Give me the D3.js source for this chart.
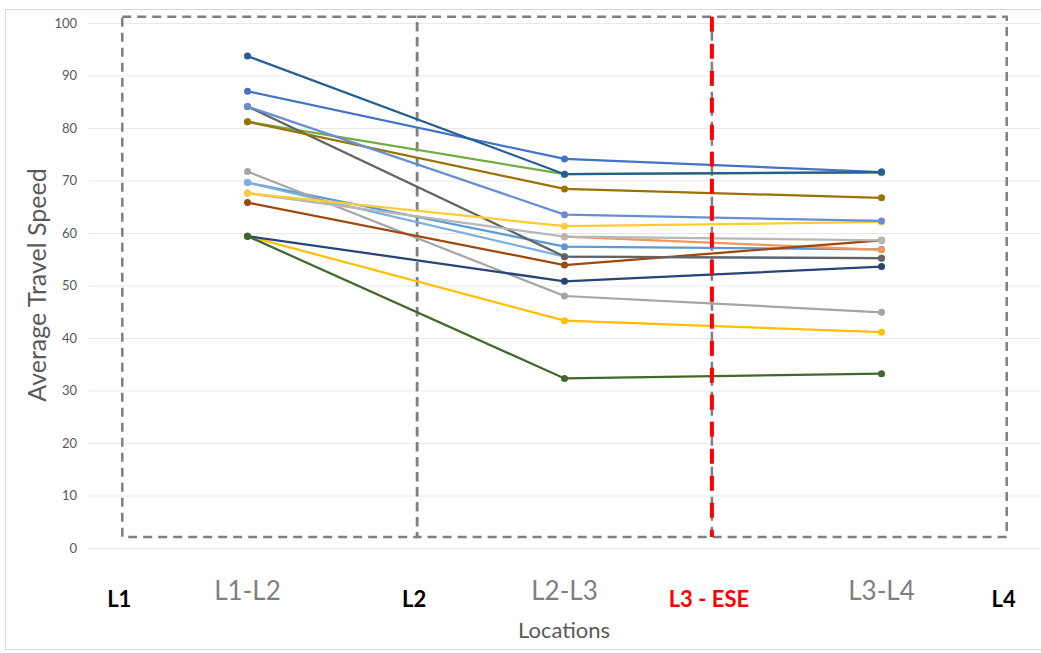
<!DOCTYPE html>
<html>
<head>
<meta charset="utf-8">
<script src="https://cdn.jsdelivr.net/npm/d3@7"></script>
<style>
  body { margin: 0; background: #fff; }
  svg text { font-family: Lato, "Open Sans", sans-serif; }
</style>
</head>
<body>
<svg id="chart" width="1041" height="653"></svg>
<script>
// categories on the x axis
var categories = ["L1-L2", "L2-L3", "L3-L4"];
var yTicks = [0, 10, 20, 30, 40, 50, 60, 70, 80, 90, 100];

// one array per route (null = no point)
var routeA = [69.6, 57.4, 56.9];
var routeB = [69.6, 55.5, 55.2];
var routeC = [87.0, 74.1, 71.6];
var routeD = [81.2, 71.2, 71.5];
var routeE = [null, 59.3, 56.8];
var routeF = [71.7, 48.0, 44.9];
var routeG = [59.4, 43.3, 41.1];
var routeH = [59.4, 50.8, 53.6];
var routeI = [65.8, 53.9, 58.6];
var routeJ = [84.1, 55.5, 55.2];
var routeK = [81.2, 68.4, 66.7];
var routeL = [93.7, 71.2, 71.6];
var routeM = [59.4, 32.3, 33.2];
var routeN = [67.6, 59.3, 58.6];
var routeO = [67.6, 61.3, 62.1];
var routeP = [84.1, 63.5, 62.3];

var routes = [routeA, routeB, routeC, routeD, routeE, routeF, routeG, routeH,
              routeI, routeJ, routeK, routeL, routeM, routeN, routeO, routeP];
var routeColors = ["#5B9BD5", "#7CAFDD", "#4472C4", "#70AD47", "#F1975A", "#A5A5A5",
                   "#FFC000", "#264478", "#9E480E", "#636363", "#997300", "#255E91",
                   "#43682B", "#B7B7B7", "#FFCD33", "#698ED0"];

// location boundaries, in category-index units
var locationLabels = ["L1", "L2", "L3 - ESE", "L4"];
var locationIdx = [-0.395, 0.535, 1.465, 2.395];
var zoneTop = 101.2, zoneBottom = 2.1;

var svg = d3.select("#chart");

var x = d3.scaleBand().domain(categories).range([89, 1040]).paddingInner(0).paddingOuter(0);
var xi = d3.scaleLinear().domain([-0.5, categories.length - 0.5]).range([89, 1040]);
var y = d3.scaleLinear().domain([0, 100]).range([548, 23]);

// outer chart border
svg.append("rect")
    .attr("x", 5.5).attr("y", 9.5)
    .attr("width", 1040).attr("height", 640)
    .attr("fill", "none")
    .attr("stroke", "#D9D9D9");

// gridlines + y labels
var yAxis = svg.append("g")
    .attr("transform", "translate(89,0)")
    .call(d3.axisLeft(y).tickValues(yTicks).tickSize(-951).tickPadding(12));
yAxis.select(".domain").remove();
yAxis.selectAll(".tick line").attr("stroke", "#E9E9E9").attr("stroke-width", 1.2);
yAxis.selectAll(".tick text")
    .attr("fill", "#595959")
    .style("font-size", "13px");

// dashed zones
var dashed = svg.append("g")
    .attr("fill", "none")
    .attr("stroke", "#808080")
    .attr("stroke-width", 2.5)
    .attr("stroke-dasharray", "9,6");

dashed.append("rect")
    .attr("x", xi(locationIdx[0]))
    .attr("y", y(zoneTop))
    .attr("width", xi(locationIdx[1]) - xi(locationIdx[0]))
    .attr("height", y(zoneBottom) - y(zoneTop));
dashed.append("rect")
    .attr("x", xi(locationIdx[1]))
    .attr("y", y(zoneTop))
    .attr("width", xi(locationIdx[3]) - xi(locationIdx[1]))
    .attr("height", y(zoneBottom) - y(zoneTop));
dashed.append("line")
    .attr("x1", xi(locationIdx[2])).attr("x2", xi(locationIdx[2]))
    .attr("y1", y(zoneTop)).attr("y2", y(zoneBottom));

// lines + markers
var line = d3.line()
    .defined(function(d) { return d != null; })
    .x(function(d, i) { return x(categories[i]) + x.bandwidth() / 2; })
    .y(function(d) { return y(d); });

routes.forEach(function(r, k) {
  var g = svg.append("g");
  g.append("path")
      .attr("d", line(r))
      .attr("fill", "none")
      .attr("stroke", routeColors[k])
      .attr("stroke-width", 2.25);
  g.selectAll("circle")
    .data(r.map(function(v, i) { return {v: v, i: i}; }).filter(function(d) { return d.v != null; }))
    .enter().append("circle")
      .attr("cx", function(d) { return x(categories[d.i]) + x.bandwidth() / 2; })
      .attr("cy", function(d) { return y(d.v); })
      .attr("r", 3.5)
      .attr("fill", routeColors[k]);
});

// red ESE line on top
svg.append("line")
    .attr("x1", xi(locationIdx[2])).attr("x2", xi(locationIdx[2]))
    .attr("y1", y(zoneTop)).attr("y2", y(zoneBottom))
    .attr("stroke", "#FF0000")
    .attr("stroke-width", 4)
    .attr("stroke-dasharray", "15,12");

// category labels
svg.append("g").selectAll("text")
  .data(categories)
  .enter().append("text")
    .attr("x", function(d) { return x(d) + x.bandwidth() / 2; })
    .attr("y", 600)
    .attr("text-anchor", "middle")
    .attr("fill", "#7F7F7F")
    .style("font-size", "26px")
    .text(function(d) { return d; });

// location labels
svg.append("g").selectAll("text")
  .data(locationLabels)
  .enter().append("text")
    .attr("x", function(d, i) { return xi(locationIdx[i]) - 3; })
    .attr("y", 607)
    .attr("text-anchor", "middle")
    .attr("fill", function(d, i) { return i == 2 ? "#FF0000" : "#000"; })
    .style("font-size", "22px")
    .style("font-weight", "bold")
    .text(function(d) { return d; });

// axis titles
svg.append("text")
    .attr("x", 564).attr("y", 638)
    .attr("text-anchor", "middle")
    .attr("fill", "#595959")
    .style("font-size", "22px")
    .text("Locations");

svg.append("text")
    .attr("transform", "translate(46,285) rotate(-90)")
    .attr("text-anchor", "middle")
    .attr("fill", "#595959")
    .style("font-size", "25px")
    .text("Average Travel Speed");
</script>
</body>
</html>
